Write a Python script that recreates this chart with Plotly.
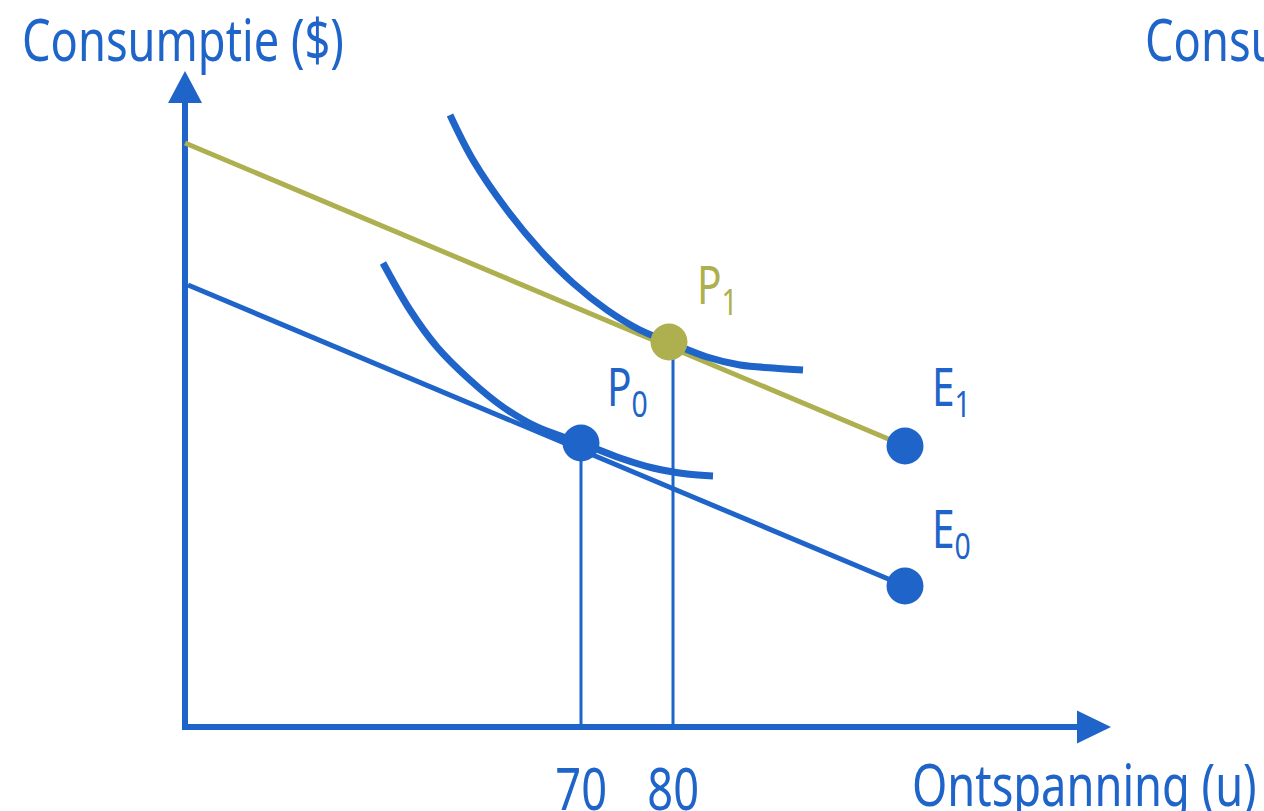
import plotly.graph_objects as go

BLUE = "#1f64c8"
OLIVE = "#aeaf4e"
FONT = "Noto Sans, Roboto, sans-serif"

# Diagram units: origin at the axes corner (not to scale)
# Budget lines (start on y-axis, end at endowment point E)
budget0_x = [0.3, 72.0]
budget0_y = [44.2, 14.1]
budget1_x = [0.0, 72.0]
budget1_y = [58.4, 28.1]

# Indifference curves
ic1_x = [26.5, 28.8, 32.2, 35.5, 38.8, 42.2, 45.5, 48.4, 52.2, 55.5, 58.8, 61.8]
ic1_y = [61.2, 56.7, 51.7, 47.7, 44.4, 41.7, 39.7, 38.5, 37.0, 36.2, 35.9, 35.7]
ic0_x = [19.8, 22.5, 25.2, 28.5, 31.8, 35.2, 39.6, 43.5, 46.8, 50.2, 52.8]
ic0_y = [46.4, 41.7, 38.0, 34.7, 32.0, 30.0, 28.4, 26.9, 25.9, 25.3, 25.1]

# Optimal points and endowment points
P_names = ["P<sub>0</sub>", "P<sub>1</sub>"]
P_x = [39.6, 48.4]
P_y = [28.4, 38.5]
E_names = ["E<sub>0</sub>", "E<sub>1</sub>"]
E_x = [72.0, 72.0]
E_y = [14.1, 28.1]

# Drop lines / ticks
tick_x = [39.6, 48.8]
tick_text = ["70", "80"]

X_MAX = 92.6   # arrow tip
Y_MAX = 65.6   # arrow tip

fig = go.Figure()

# axes
fig.add_trace(go.Scatter(x=[0, 0, X_MAX - 3.0], y=[Y_MAX - 3.0, 0, 0], mode="lines",
                         line=dict(color=BLUE, width=6), hoverinfo="skip"))
fig.add_trace(go.Scatter(x=[-1.7, 1.7, 0, -1.7], y=[Y_MAX - 3.2, Y_MAX - 3.2, Y_MAX, Y_MAX - 3.2],
                         mode="lines", fill="toself", fillcolor=BLUE, line=dict(color=BLUE, width=0),
                         hoverinfo="skip"))
fig.add_trace(go.Scatter(x=[X_MAX - 3.4, X_MAX - 3.4, X_MAX, X_MAX - 3.4], y=[1.65, -1.65, 0, 1.65],
                         mode="lines", fill="toself", fillcolor=BLUE, line=dict(color=BLUE, width=0),
                         hoverinfo="skip"))

# drop lines
for i in range(2):
    fig.add_trace(go.Scatter(x=[tick_x[i], tick_x[i]], y=[0, P_y[i]], mode="lines",
                             line=dict(color=BLUE, width=3), hoverinfo="skip"))

# budget lines
fig.add_trace(go.Scatter(x=budget0_x, y=budget0_y, mode="lines", line=dict(color=BLUE, width=5)))
fig.add_trace(go.Scatter(x=budget1_x, y=budget1_y, mode="lines", line=dict(color=OLIVE, width=5)))

# indifference curves
fig.add_trace(go.Scatter(x=ic0_x, y=ic0_y, mode="lines", line=dict(color=BLUE, width=7, shape="spline")))
fig.add_trace(go.Scatter(x=ic1_x, y=ic1_y, mode="lines", line=dict(color=BLUE, width=7, shape="spline")))

# points
fig.add_trace(go.Scatter(x=E_x, y=E_y, mode="markers", marker=dict(color=BLUE, size=37)))
fig.add_trace(go.Scatter(x=[P_x[0]], y=[P_y[0]], mode="markers", marker=dict(color=BLUE, size=37)))
fig.add_trace(go.Scatter(x=[P_x[1]], y=[P_y[1]], mode="markers", marker=dict(color=OLIVE, size=37)))

ann = []
def txt(x, y, t, color=BLUE, size=52, xanchor="left"):
    ann.append(dict(x=x, y=y, text=t, showarrow=False, xanchor=xanchor, yanchor="middle",
                    font=dict(family=FONT, size=size, color=color)))

txt(-16.5, 68.9, "Consumptie ($)", size=58)
txt(95.8, 68.9, "Consumptie ($)", size=58)
txt(72.5, -5.6, "Ontspanning (u)", size=58)
for tx, tt in zip(tick_x, tick_text):
    txt(tx, -6.0, tt, size=58, xanchor="center")
txt(42.0, 33.8, P_names[0])
txt(51.0, 44.0, P_names[1], color=OLIVE)
txt(74.5, 33.8, E_names[1])
txt(74.5, 19.6, E_names[0])

fig.update_layout(
    width=1264, height=811,
    margin=dict(l=0, r=0, t=0, b=0),
    paper_bgcolor="white", plot_bgcolor="white",
    showlegend=False,
    xaxis=dict(range=[-18.5, 107.9], visible=False, fixedrange=True),
    yaxis=dict(range=[-8.4, 72.7], visible=False, fixedrange=True),
    annotations=ann,
)

post = """
document.body.style.margin='0';
var gd = document.getElementById('{plot_id}');
gd.querySelectorAll('text.annotation-text').forEach(function(t){
  var b = t.getBBox();
  var s = 0.78;
  var c = t.textContent.trim();
  var ax = (c === '70' || c === '80') ? b.x + b.width / 2 : b.x;
  var prev = t.getAttribute('transform') || '';
  t.setAttribute('transform', prev + ' translate(' + ax + ',0) scale(' + s + ',1) translate(' + (-ax) + ',0)');
});
"""
fig.write_html("out.html", post_script=post, config={"displayModeBar": False})
